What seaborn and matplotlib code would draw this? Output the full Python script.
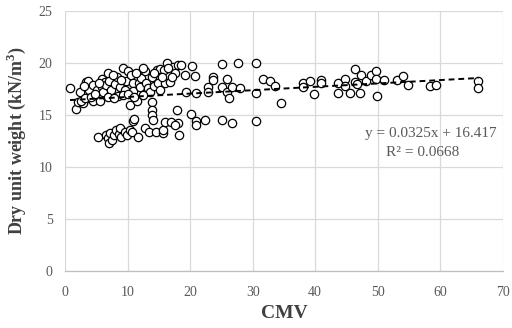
import numpy as np
import pandas as pd
import matplotlib
matplotlib.use("Agg")
import matplotlib.pyplot as plt
import seaborn as sns

# CMV vs dry unit weight
cmv = [0.8, 1.8, 2.0, 2.4, 2.9, 3.4, 3.6, 3.9, 3.9, 4.5, 4.5, 5.1, 5.3, 5.6, 5.9, 5.9,
       6.1, 6.4, 6.6, 6.9, 7.1, 7.2, 7.4, 8.0, 8.3, 8.5, 8.8, 9.3, 9.6, 9.8, 10.1, 10.4,
       10.6, 10.8, 10.9, 11.5, 11.8, 12.0, 12.2, 12.8, 12.9, 13.3, 13.6, 13.9, 13.9, 13.9,
       13.9, 14.0, 14.3, 14.7, 14.9, 15.2, 15.2, 15.8, 16.0, 16.3, 16.8, 17.3, 17.6, 17.9,
       18.0, 18.5, 18.1, 18.3, 19.2, 19.3, 20.1, 20.3, 20.8, 20.9, 20.9, 20.9, 22.4, 22.8,
       22.8, 23.7, 23.7, 25.1, 25.1, 25.1, 25.9, 25.9, 26.2, 26.7, 26.7, 27.6, 28.0, 30.6,
       30.6, 30.5,
       2.5, 3.2, 4.2, 4.8, 6.8, 7.8, 9.2, 10.0, 11.0, 12.5, 3.0, 5.5, 7.7, 9.0, 11.3, 12.4,
       14.2, 15.5, 16.5, 17.1,
       5.3, 6.6, 6.9, 7.2, 7.1, 7.5, 7.9, 8.2, 8.6, 8.8, 8.9, 9.6, 9.9, 10.4, 10.7, 10.9,
       11.1, 11.7, 12.8, 13.5, 14.6, 15.6, 15.7, 16.0, 17.0, 17.6,
       31.7, 32.8, 33.6, 34.6, 38.1, 38.1, 39.1, 39.8, 40.9, 41.0, 43.6, 43.6, 44.8, 44.7,
       45.6, 46.3, 46.3, 46.7, 47.1, 47.4, 48.1, 49.0, 49.7, 49.8, 49.9, 51.0, 53.1, 54.0,
       54.9, 58.3, 59.3, 66.1, 66.1]

dry_unit_weight = [17.6, 15.6, 16.3, 17.2, 16.2, 18.2, 18.3, 17.4, 16.6, 17.9, 16.4, 17.4, 16.8,
                   16.4, 18.5, 17.7, 17.2, 18.2, 17.9, 19.0, 18.3, 16.9, 17.4, 18.0, 18.7, 16.8,
                   17.7, 19.5, 17.4, 18.3, 19.2, 16.0, 18.9, 18.1, 17.3, 16.4, 18.1, 17.7, 18.6,
                   19.2, 18.1, 17.6, 17.2, 18.7, 16.3, 15.5, 15.0, 14.5, 17.8, 19.3, 18.1, 19.4,
                   17.4, 19.3, 18.1, 20.0, 18.2, 19.6, 19.0, 15.5, 19.8, 19.8, 14.2, 13.1, 18.9,
                   17.2, 15.1, 19.7, 18.8, 17.1, 14.4, 14.0, 14.5, 17.7, 17.2, 18.7, 18.4, 19.9,
                   17.7, 14.5, 18.5, 17.2, 16.6, 17.7, 14.2, 20.0, 17.6, 20.0, 17.1, 14.4,
                   16.4, 16.6, 16.7, 17.0, 16.7, 16.6, 16.9, 17.0, 16.7, 16.9, 17.8, 18.1, 18.9,
                   18.4, 19.0, 19.5, 19.0, 18.7, 19.5, 18.7,
                   12.9, 13.1, 12.8, 13.3, 12.3, 12.6, 13.1, 13.6, 13.2, 13.8, 12.9, 13.4, 13.1,
                   13.6, 13.4, 14.4, 14.6, 12.9, 13.8, 13.4, 13.4, 13.3, 13.6, 14.3, 14.3, 14.0,
                   18.5, 18.3, 17.8, 16.2, 18.1, 17.7, 18.3, 17.0, 18.4, 18.1, 18.1, 17.1, 18.5,
                   17.8, 17.1, 19.4, 18.2, 18.0, 17.1, 18.9, 18.3, 18.9, 19.2, 18.5, 16.8, 18.4,
                   18.4, 18.8, 17.9, 17.8, 17.9, 18.3, 17.6]

# linear trendline as reported on the chart
slope = 0.0325
intercept = 16.417
r_squared = 0.0668

df = pd.DataFrame({"CMV": cmv, "Dry": dry_unit_weight})
trend = pd.DataFrame({"CMV": [min(cmv), max(cmv)]})
trend["Dry"] = slope * trend["CMV"] + intercept

sns.set_theme(style="whitegrid")
plt.rcParams['font.family'] = ['Liberation Serif', 'DejaVu Serif']

fig = plt.figure(figsize=(5.12, 3.28), dpi=100)
ax = fig.add_axes([0.127, 0.174, 0.855, 0.792])

sns.scatterplot(data=df, x="CMV", y="Dry", ax=ax, s=36, facecolor="white",
                edgecolor="black", linewidth=0.9, zorder=3)
sns.lineplot(data=trend, x="CMV", y="Dry", ax=ax, color="black", linewidth=1.4,
             linestyle=(0, (3, 2)), zorder=4)

ax.set_xlim(0, 70)
ax.set_ylim(0, 25)
ax.set_xticks(range(0, 71, 10))
ax.set_yticks(range(0, 26, 5))
ax.grid(True, color="#d9d9d9", linewidth=0.9)
ax.set_axisbelow(True)
for side in ["top", "left", "right"]:
    ax.spines[side].set_visible(False)
ax.spines["bottom"].set_color("#bfbfbf")
ax.spines["bottom"].set_linewidth(0.9)
ax.tick_params(axis="both", length=0, labelsize=10, labelcolor="#595959")
ax.tick_params(axis="x", pad=11)
ax.tick_params(axis="y", pad=9)

ax.set_xlabel("CMV", fontsize=14, fontweight="bold", color="#404040", labelpad=4)
ax.set_ylabel("Dry unit weight (kN/m$^\\mathregular{3}$)", fontsize=13, fontweight="bold",
              color="#404040", labelpad=8)

ax.text(0.985, 0.53, f"y = {slope}x + {intercept}", transform=ax.transAxes,
        ha="right", va="center", fontsize=11, color="#595959")
ax.text(0.90, 0.455, f"R² = {r_squared}", transform=ax.transAxes,
        ha="right", va="center", fontsize=11, color="#595959")

plt.savefig("out.png", dpi=100)
